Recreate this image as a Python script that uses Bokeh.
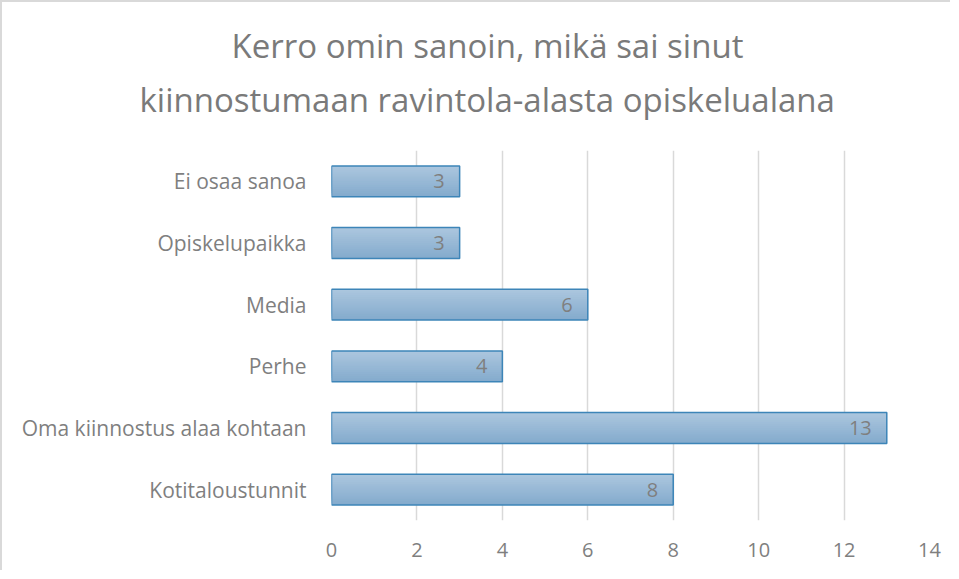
from bokeh.plotting import figure
from bokeh.models import ColumnDataSource, LabelSet, FixedTicker, Range1d, Title
from bokeh.core.properties import value
from bokeh.transform import dodge
from bokeh.embed import file_html
from bokeh.resources import INLINE

title_lines = ["Kerro omin sanoin, mikä sai sinut", "kiinnostumaan ravintola-alasta opiskelualana"]
categories = ["Ei osaa sanoa", "Opiskelupaikka", "Media", "Perhe",
              "Oma kiinnostus alaa kohtaan", "Kotitaloustunnit"]
values = [3, 3, 6, 4, 13, 8]
x_ticks = [0, 2, 4, 6, 8, 10, 12, 14]

factors = list(reversed(categories))
src = ColumnDataSource(dict(cat=categories, val=values, lab=[str(v) for v in values]))

FONT = "Open Sans"
GRAY = "#7f7f7f"
TGRAY = "#7a7a7a"
p = figure(width=950, height=570, y_range=factors, x_range=Range1d(0, 14),
           output_backend="svg", toolbar_location=None,
           min_border_left=329, min_border_right=23, min_border_top=148, min_border_bottom=52,
           title=title_lines[0])
p.title.align = "left"
p.title.offset = -100
p.title.standoff = -43
p.title.text_font = FONT
p.title.text_font_size = "33px"
p.title.text_font_style = "normal"
p.title.text_color = TGRAY
t2 = Title(text=title_lines[1], align="left", offset=-192, standoff=57,
           text_font=FONT, text_font_size="33px", text_font_style="normal",
           text_color=TGRAY)
p.add_layout(t2, "above")
p.outline_line_color = None
p.styles = {"border-top": "2px solid #d9d9d9", "border-left": "2px solid #d9d9d9"}

# gradient bars (darker bottom -> lighter top), overlaid strips anchored at top edge
N = 16
bh = 0.5
h = bh / N
top = (0xab, 0xc6, 0xde)
bot = (0x84, 0xab, 0xcd)
for i in range(N):
    t = i / (N - 1)
    c = tuple(round(bot[k] + (top[k] - bot[k]) * t) for k in range(3))
    col = "#%02x%02x%02x" % c
    lo = -bh / 2 + i * h
    hi = bh / 2
    p.hbar(y=dodge("cat", (lo + hi) / 2, range=p.y_range), right="val", left=0,
           height=hi - lo, source=src, fill_color=col, line_color=None)
p.hbar(y="cat", right="val", left=0, height=bh, source=src,
       fill_color=None, line_color="#3d85b8", line_width=1.5)

labels = LabelSet(x="val", y="cat", text="lab", source=src, x_offset=-15,
                  text_align="right", text_baseline="middle",
                  text_font=value(FONT), text_font_size="20px", text_color=GRAY)
p.add_layout(labels)

p.xaxis.ticker = FixedTicker(ticks=x_ticks)
p.xaxis.axis_line_color = None
p.xaxis.major_tick_line_color = None
p.xaxis.minor_tick_line_color = None
p.xaxis.major_label_text_font = FONT
p.xaxis.major_label_text_font_size = "20px"
p.xaxis.major_label_text_color = GRAY
p.xaxis.major_label_standoff = 16

p.yaxis.axis_line_color = None
p.yaxis.major_tick_line_color = None
p.yaxis.minor_tick_line_color = None
p.yaxis.major_label_text_font = FONT
p.yaxis.major_label_text_font_size = "21px"
p.yaxis.major_label_text_color = GRAY
p.yaxis.major_label_standoff = 19

p.xgrid.grid_line_color = "#d9d9d9"
p.xgrid.grid_line_width = 1.5
p.ygrid.grid_line_color = None

open("out.html", "w").write(file_html(p, INLINE))
